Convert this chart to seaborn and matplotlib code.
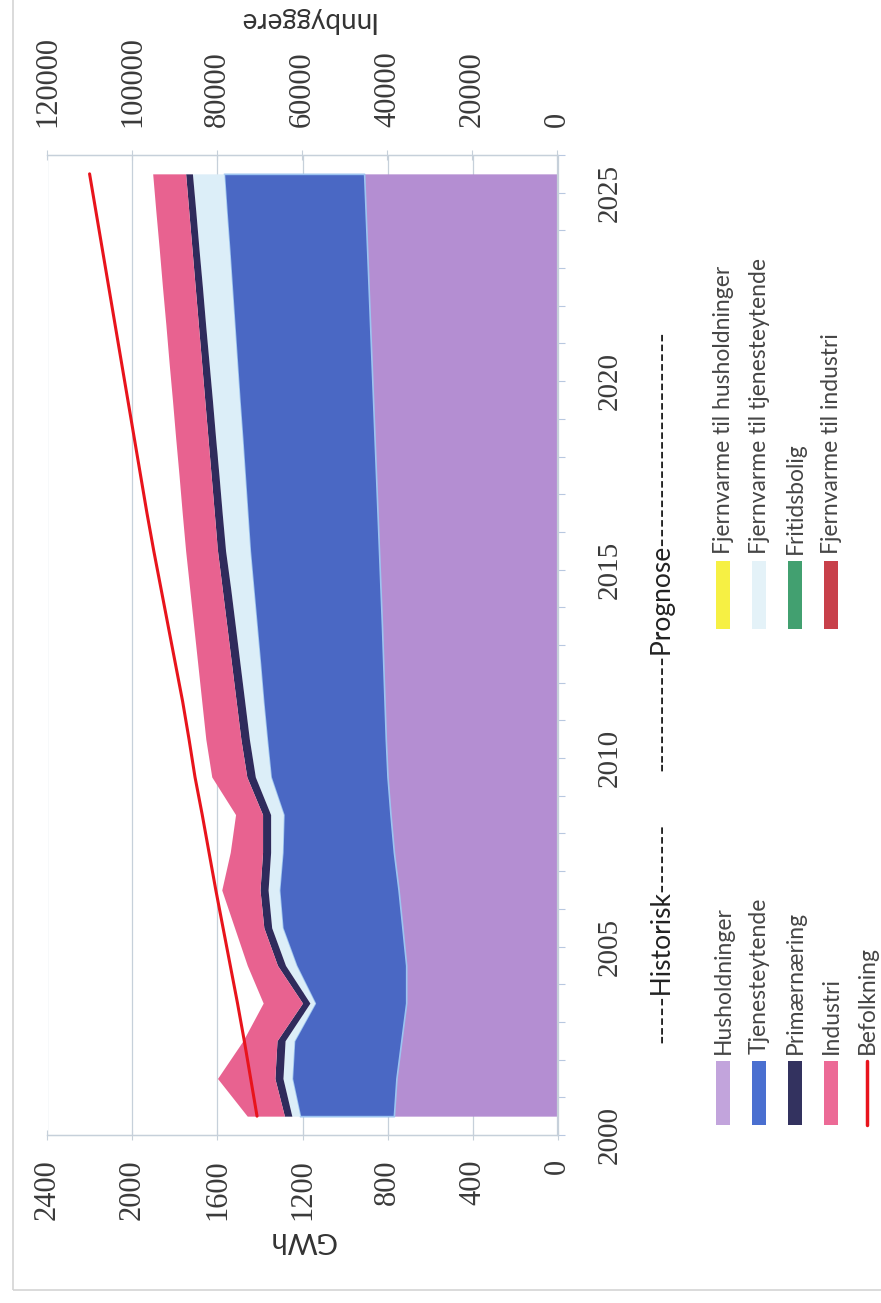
import matplotlib
matplotlib.use("Agg")
import matplotlib.pyplot as plt
import seaborn as sns
from matplotlib.patches import Rectangle
from matplotlib.lines import Line2D

# values (GWh per year, stacked)
years = list(range(2000, 2026))
husholdninger = [770, 758, 735, 712, 712, 730, 748, 770, 786, 800, 808, 814, 820,
                 826, 833, 840, 847, 854, 861, 868, 875, 882, 889, 896, 903, 910]
tjenesteytende = [442, 492, 505, 430, 518, 565, 562, 525, 504, 550, 560, 571, 580,
                  590, 599, 608, 613, 618, 623, 629, 634, 639, 644, 649, 655, 660]
fjv_husholdninger = [0] * 26
fjv_tjenesteytende = [38, 42, 42, 23, 50, 50, 52, 55, 60, 72, 82, 87, 94,
                      100, 106, 114, 118, 121, 125, 127, 131, 135, 138, 142, 144, 148]
primaernaering = [35, 38, 38, 35, 38, 37, 38, 38, 38, 40, 40, 40, 40,
                  40, 40, 38, 37, 37, 36, 36, 35, 34, 34, 33, 33, 32]
fritidsbolig = [0] * 26
industri = [175, 270, 160, 185, 142, 138, 180, 152, 127, 165, 165, 162, 159,
            156, 153, 150, 151, 151, 152, 152, 153, 153, 154, 154, 155, 155]
fjv_industri = [0] * 26
# population, secondary axis
befolkning = [70700, 72200, 73700, 75300, 77000, 78700, 80400, 82000, 83600, 85300,
              86700, 88200, 89900, 91600, 93300, 95000, 96600, 98100, 99600, 101100,
              102600, 104100, 105600, 107100, 108600, 110100]

gwh_ticks = [0, 400, 800, 1200, 1600, 2000, 2400]
pop_ticks = [0, 20000, 40000, 60000, 80000, 100000, 120000]
year_labels = [2000, 2005, 2010, 2015, 2020, 2025]

W, H = 881, 1303
SERIF = ["Liberation Serif", "DejaVu Serif"]


def fx(px):
    return px / W


def fy(py):
    return 1 - py / H


def main():
    sns.set_theme(style="white")
    plt.rcParams["font.family"] = ["Lato", "DejaVu Sans"]
    fig = plt.figure(figsize=(W / 100, H / 100), dpi=100)
    ax = fig.add_axes([fx(47.5), fy(1135), 510 / W, 980 / H])
    draw_areas(ax)
    ax2 = draw_population(ax)
    style_axes(ax, ax2)
    draw_legend(fig)
    draw_titles(fig)
    fig.savefig("out.png", dpi=100)


def draw_areas(ax):
    series = [
        (husholdninger, "#B48ED2"),
        (tjenesteytende, "#4A68C4"),
        (fjv_husholdninger, "#F2EE3A"),
        (fjv_tjenesteytende, "#DCEEF8"),
        (primaernaering, "#2F2B5C"),
        (fritidsbolig, "#3E9E68"),
        (industri, "#E86290"),
        (fjv_industri, "#C0424C"),
    ]
    base = [0] * len(years)
    for values, color in series:
        top = [b + v for b, v in zip(base, values)]
        if color == "#4A68C4":
            ax.fill_betweenx(years, base, top, facecolor=color, edgecolor="#9CC4F0", lw=1.2)
        else:
            ax.fill_betweenx(years, base, top, color=color, lw=0)
        base = top


def draw_population(ax):
    ax2 = ax.twiny()
    sns.lineplot(x=befolkning, y=years, orient="y", ax=ax2, color="#E8141C", lw=2.2)
    ax2.set_xlim(120000, 0)
    ax2.set_xlabel("")
    ax2.set_ylabel("")
    return ax2


def style_axes(ax, ax2):
    grid_c = "#C6D0DA"
    ax.set_xlim(2400, 0)
    ax.set_ylim(1999.5, 2025.5)
    ax.set_axisbelow(True)
    ax.grid(axis="x", color=grid_c, lw=0.9)
    ax.grid(axis="y", visible=False)

    ax.set_xticks(gwh_ticks)
    ax.set_xticklabels([str(t) for t in gwh_ticks], rotation=90,
                       fontsize=22, family=SERIF, color="#3A3A3A")
    ax.tick_params(axis="x", direction="inout", length=7, width=0.8, color=grid_c, pad=14)

    ax2.set_xticks(pop_ticks)
    ax2.set_xticklabels([str(t) for t in pop_ticks], rotation=90,
                        fontsize=22, family=SERIF, color="#3A3A3A")
    ax2.tick_params(axis="x", direction="inout", length=7, width=0.8, color=grid_c, pad=17)

    ax.yaxis.tick_right()
    ax.set_yticks(year_labels)
    ax.set_yticklabels([str(y) for y in year_labels], rotation=90,
                       fontsize=21, family=SERIF, color="#3A3A3A")
    ax.set_yticks([y + 0.5 for y in range(1999, 2026)], minor=True)
    ax.tick_params(axis="y", which="major", length=0, pad=28)
    ax.tick_params(axis="y", which="minor", right=True, direction="out",
                   length=5, width=0.8, color="#B8C8E0")

    for a in (ax, ax2):
        for s in a.spines.values():
            s.set_color(grid_c)
            s.set_linewidth(0.9)
    ax.spines["left"].set_visible(False)
    ax2.spines["left"].set_visible(False)


def draw_legend(fig):
    col_a = [("Husholdninger", "#C2A4DC"), ("Tjenesteytende", "#4A6FD0"),
             ("Primærnæring", "#33325F"), ("Industri", "#EC6A96"),
             ("Befolkning", None)]
    col_b = [("Fjernvarme til husholdninger", "#F6F044"),
             ("Fjernvarme til tjenesteytende", "#E4F2F8"),
             ("Fritidsbolig", "#42A070"), ("Fjernvarme til industri", "#C8404A")]
    for entries, y_low, y_high in ((col_a, 1125, 1061), (col_b, 629, 561)):
        for i, (label, color) in enumerate(entries):
            x = 723 + i * 36
            if color is None:
                fig.add_artist(Line2D([fx(x), fx(x)], [fy(y_low), fy(y_high)],
                                      color="#E8141C", lw=2.5, transform=fig.transFigure))
            else:
                fig.add_artist(Rectangle((fx(x - 7), fy(y_low)), 14 / W, (y_low - y_high) / H,
                                         facecolor=color, edgecolor="none",
                                         transform=fig.transFigure))
            fig.text(fx(x), fy(y_high - 7), label, rotation=90, ha="center", va="bottom",
                     fontsize=16.5, color="#454545")


def draw_titles(fig):
    fig.text(fx(662), fy(1043), "-----Historisk-------", rotation=90,
             ha="center", va="bottom", fontsize=19, color="#222222")
    fig.text(fx(662), fy(771), "------------Prognose----------------------", rotation=90,
             ha="center", va="bottom", fontsize=19, color="#222222")
    fig.text(fx(302), fy(1240), "GWh", rotation=180, ha="center", va="center",
             fontsize=21, color="#333333")
    fig.text(fx(306), fy(20), "Innbyggere", rotation=180, ha="center", va="center",
             fontsize=20, color="#333333")
    fig.add_artist(Rectangle((fx(13), fy(1290)), 2, 2, fill=False, edgecolor="#D4D4D4",
                             lw=1.2, transform=fig.transFigure))


if __name__ == "__main__":
    main()
